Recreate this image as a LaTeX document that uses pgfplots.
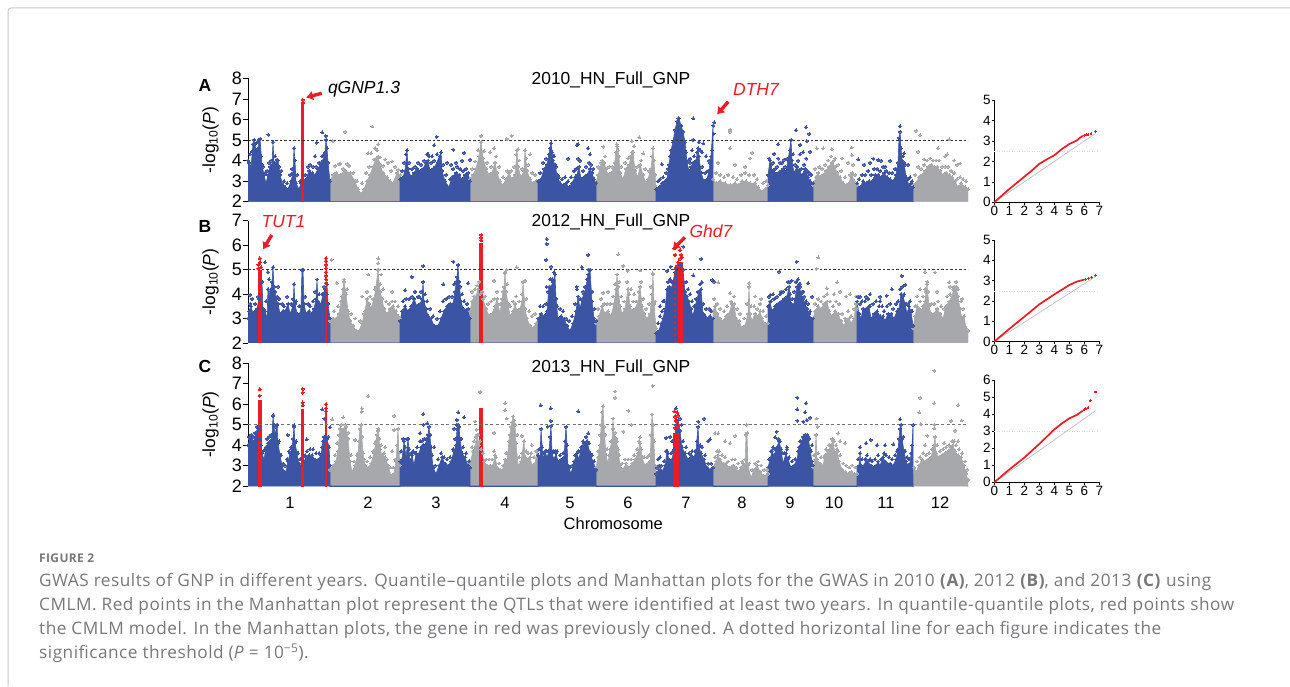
\documentclass[border=0pt]{standalone}
\usepackage{pgfplots}
\pgfplotsset{compat=1.18}
\usetikzlibrary{arrows.meta}
\usepackage{fontspec}
\setmainfont{Liberation Sans}
\newfontfamily\capfont[LetterSpace=3]{Open Sans}
\definecolor{blueM}{HTML}{3B54A4}
\definecolor{grayM}{HTML}{A6A8AB}
\definecolor{redM}{HTML}{ED1C24}
\definecolor{capgray}{HTML}{77787B}
\newcommand{\fs}[1]{\fontsize{#1}{#1}\selectfont}
\pgfplotsset{
  manh/.style={scale only axis,width=720pt,xmin=248,xmax=968,
    axis y line=left,y axis line style={-,black,line width=.6pt},
    ytick distance=1,tick align=outside,major tick length=5pt,
    tick style={black,line width=.6pt},
    yticklabel style={font=\fs{18},inner sep=1pt},
    /pgf/number format/assume math mode=true,
    ylabel={-log\textsubscript{10}(\textit{P})},
    ylabel style={font=\fs{17.5},at={(axis description cs:-0.052,0.5)},anchor=center},
  },
  envb/.style={draw=blueM,fill=blueM,line width=.6pt,mark=*,mark size=1.4pt,mark options={fill=blueM,draw=blueM,line width=0pt}},
  envg/.style={draw=grayM,fill=grayM,line width=.6pt,mark=*,mark size=1.4pt,mark options={fill=grayM,draw=grayM,line width=0pt}},
  ptb/.style={only marks,mark=*,mark size=1.5pt,mark options={fill=blueM,draw=blueM,line width=0pt}},
  ptg/.style={only marks,mark=*,mark size=1.4pt,mark options={fill=grayM,draw=grayM,line width=0pt}},
  ptr/.style={only marks,mark=*,mark size=1.6pt,mark options={fill=redM,draw=redM,line width=0pt}},
  thr/.style={black!80,line width=.6pt,dash pattern=on 2.5pt off 2pt},
  qq/.style={scale only axis,width=105pt,xmin=0,xmax=7,ymin=0,
    axis lines=left,axis line style={-,black,line width=.5pt},
    xtick distance=1,ytick distance=1,tick align=outside,major tick length=2.5pt,
    tick style={black,line width=.5pt},
    tick label style={font=\fs{13.5},inner sep=1pt},
    /pgf/number format/assume math mode=true,clip=false},
  qqr/.style={redM,line width=1.7pt},
  qqg/.style={black!25,line width=.7pt},
  qqt/.style={black!15,line width=.5pt,dotted},
}
\begin{document}
\begin{tikzpicture}[x=1pt,y=1pt]
\path[use as bounding box] (0,0) rectangle (1290,686);
\fill[white] (0,0) rectangle (1290,686);
\draw[black!22,line width=1pt,rounded corners=3pt] (8,0) -- (8,678) -- (1290,678);

% Panel A
\begin{axis}[manh,axis x line=none,name=pa,at={(248pt,484.3pt)},anchor=south west,height=123.4pt,ymin=2,ymax=8]
\addplot[envg] coordinates {(330,1.5)(330,3.0)(333,3.3)(336,3.4)(340,3.3)(345,3.5)(350,3.4)(355,3.0)(358,2.6)(361,2.4)(364,2.6)(367,3.0)(370,3.3)(373,3.7)(376,4.1)(378,4.2)(380,3.8)(383,3.4)(387,3.2)(390,3.0)(393,2.9)(397,3.4)(400,3.3)(400,1.5)
(470,1.5)(470,3.1)(473,3.3)(476,3.6)(479,4.2)(481,4.9)(483,4.1)(486,3.6)(489,3.3)(492,3.4)(495,3.9)(497,3.4)(500,3.0)(503,2.8)(506,3.1)(509,3.4)(512,3.1)(515,3.3)(517,4.5)(518,3.7)(521,3.2)(524,3.5)(525,4.5)(527,3.5)(530,3.1)(533,2.9)(536,3.0)(538,3.0)(538,1.5)
(596,1.5)(596,2.9)(598,3.3)(600,3.6)(602,4.0)(604,3.9)(606,3.6)(608,3.3)(611,3.4)(614,3.6)(616,4.4)(617,4.7)(619,4.2)(620,3.4)(623,3.1)(626,3.6)(629,3.8)(632,4.4)(633,4.4)(635,3.5)(638,3.2)(640,3.8)(643,3.3)(646,2.9)(648,3.1)(651,3.6)(653,4.6)(655,3.3)(656,2.7)(656,1.5)
(713,1.5)(713,3.1)(716,2.9)(720,3.0)(725,2.9)(730,2.8)(735,2.9)(738,2.8)(742,3.0)(746,3.0)(750,2.9)(755,2.9)(758,2.7)(762,2.5)(765,2.6)(768,2.8)(768,1.5)
(813,1.5)(813,2.8)(816,3.2)(818,3.4)(820,3.2)(823,3.3)(826,3.5)(829,3.7)(832,3.9)(835,3.7)(837,3.4)(840,3.2)(843,2.9)(846,2.8)(849,2.9)(852,3.4)(854,3.0)(857,2.8)(857,1.5)
(913,1.5)(913,2.8)(916,2.9)(919,3.2)(922,3.3)(925,3.5)(928,3.7)(931,3.8)(934,3.7)(937,3.7)(940,3.5)(943,3.3)(946,3.4)(949,3.3)(952,3.2)(955,3.0)(958,2.7)(961,2.9)(965,2.7)(968,2.6)(968,1.5)} \closedcycle;
\addplot[envb] coordinates {(248,4.0)(249,3.9)(251,3.7)(253,4.8)(254,5.0)(256,4.5)(258,4.6)(259,5.0)(260,5.05)(262,3.8)(264,3.3)(266,2.9)(268,3.3)(270,3.7)(272,3.8)(273,4.9)(274,3.9)(276,3.9)(278,4.0)(280,3.3)(283,2.8)(285,2.7)(288,2.6)(291,3.0)(293,3.4)(294,4.6)(295,4.0)(296,2.9)(299,2.6)(301,2.9)(304,3.0)(306,3.1)(309,3.5)(312,3.4)(315,3.3)(318,3.6)(321,3.9)(323,4.0)(325,4.4)(326,5.0)(327,4.6)(328,3.9)(330,3.0)(330,1.5)
(400,1.5)(400,3.1)(403,3.2)(405,3.5)(407,4.5)(408,3.6)(411,3.2)(414,3.4)(417,3.6)(420,3.5)(423,3.6)(426,3.9)(428,4.0)(430,3.5)(433,3.6)(435,3.7)(441,4.4)(442,3.5)(445,3.0)(449,2.7)(452,3.2)(456,3.4)(459,3.3)(462,3.1)(465,3.3)(468,3.4)(470,3.0)(470,1.5)
(538,1.5)(538,3.0)(541,3.1)(544,3.6)(547,3.8)(550,4.6)(551,4.85)(553,4.0)(555,3.8)(557,3.3)(560,2.9)(563,2.8)(566,2.9)(569,2.7)(572,2.9)(575,3.2)(577,3.3)(579,3.7)(581,3.1)(584,3.2)(587,3.3)(590,3.6)(592,3.4)(594,3.1)(596,2.9)(596,1.5)
(656,1.5)(656,2.6)(659,2.7)(662,2.9)(665,3.0)(667,3.1)(669,3.8)(671,4.5)(673,4.9)(675,5.5)(677,5.9)(679,6.05)(681,5.7)(683,5.4)(685,4.9)(687,3.9)(689,3.5)(691,3.7)(693,3.9)(696,4.0)(698,4.6)(699,4.2)(701,3.4)(704,3.0)(707,3.1)(709,3.5)(711,4.2)(713,5.7)(713,1.5)
(768,1.5)(768,3.3)(770,4.0)(772,3.5)(774,3.4)(776,3.3)(778,3.4)(781,3.5)(783,3.6)(786,3.5)(788,4.0)(791,5.0)(792,4.0)(794,3.4)(797,3.7)(799,3.5)(802,3.3)(805,3.6)(808,3.2)(810,3.0)(813,2.9)(813,1.5)
(857,1.5)(857,2.9)(860,2.7)(863,3.0)(866,2.9)(869,3.0)(872,3.0)(875,3.3)(878,3.3)(881,3.2)(884,3.4)(887,3.2)(890,3.1)(893,3.0)(896,3.3)(898,3.9)(899,5.1)(900,5.4)(901,4.6)(902,4.0)(904,3.9)(906,3.2)(909,2.8)(911,2.9)(913,2.7)(913,1.5)} \closedcycle;
\addplot[ptg] coordinates {(345,5.4)(372.3,5.66)(332.7,4.95)(378.3,4.8)(481,5.2)(506.7,5.05)(511.7,5.2)(494,4.6)(518,4.56)(730,5.5)(730,5.4)(730,4.6)(639.3,5.13)(916,5.45)(920,5.24)(949.3,5.03)(918,4.43)(938,4.6)(752,4.38)(851.7,4.64)(851.7,4.27)(823.3,4.6)(831.7,4.56)(816.7,4.6)(960,3.86)(603.3,4.67)(616.7,4.8)(631.7,4.95)(643.3,4.35)(368,4.35)(375,4.6)(385,4.05)(392,3.95)(340,3.85)(347,3.85)(735,3.8)(718,3.9)(745,3.7)(750,4.1)(924,4.05)(945,4.2)(947,4.3)(954,4.0)(957,3.8)(835,4.1)(842,4.1)(848,3.9)(490,4.4)(516,4.3)(530,4.3)
(335,3.75)(339,3.85)(343,3.6)(349,3.75)(353,3.4)(357,3.0)(362,2.9)(366,3.4)(369,3.7)(371,4.35)(374,4.05)(377,4.5)(380,4.15)(383,3.75)(388,3.9)(391,3.5)(395,3.7)(398,3.55)(472,3.6)(475,3.95)(478,4.5)(484,4.45)(487,3.9)(491,3.7)(496,4.2)(499,3.7)(503,3.2)(507,3.5)(511,3.5)(514,3.7)(519,4.0)(522,3.6)(526,4.1)(528,3.8)(532,3.4)(535,3.3)(598,3.7)(601,3.9)(605,4.2)(609,3.7)(612,3.7)(615,3.9)(618,4.5)(621,3.7)(625,3.9)(628,4.1)(630,4.2)(634,4.7)(637,3.7)(641,4.0)(645,3.6)(649,3.5)(652,4.2)(654,4.0)(716,3.4)(720,3.3)(724,3.2)(728,3.3)(733,3.2)(737,3.1)(741,3.3)(745,3.4)(749,3.3)(754,3.3)(757,3.1)(763,2.9)(766,3.0)(815,3.6)(819,3.7)(822,3.6)(825,3.8)(828,4.0)(831,4.2)(834,4.0)(838,3.8)(841,3.5)(845,3.2)(850,3.3)(853,3.8)(855,3.3)(915,3.3)(918,3.7)(921,3.6)(924,3.8)(927,4.0)(930,4.1)(933,4.0)(936,4.0)(939,4.0)(942,3.7)(945,3.7)(948,3.7)(951,3.5)(954,3.4)(957,3.1)(960,3.2)(963,3.1)(966,3.0)};
\addplot[ptb] coordinates {(268.3,5.26)(273,4.9)(322.3,5.37)(325.7,5.2)(316.7,4.87)(315,4.2)(436.7,5.16)(434.3,4.75)(428.3,4.3)(453.3,4.53)(464,4.37)(470,4.05)(432,4.2)(437,4.3)(447,3.9)(451,3.8)(456,3.9)(462,4.0)(576.7,4.75)(578,4.8)(551,4.85)(588,4.6)(590,4.3)(568,4.1)(578,4.1)(553,4.2)(678.3,6.05)(693.3,6.05)(714.3,5.86)(713.5,5.3)(693,5.0)(698.7,4.9)(703.3,4.83)(796,5.47)(806,5.63)(809.3,5.3)(806.7,4.95)(800,4.76)(778.3,4.8)(774,4.33)(810,4.43)(900,5.68)(661.7,3.83)(692,4.5)(702,4.4)(706,4.2)(690,4.1)(709,4.0)(778,4.1)(784,4.05)(800,4.3)(803,4.4)(806,4.1)(858.3,4.06)(878.3,4.03)(873.3,4.1)(890,4.0)(864,3.8)(870,3.9)(881,4.0)(885,3.7)(904,4.35)(908,3.8)
(250,4.3)(252,4.45)(255,4.8)(257,4.9)(261,4.2)(263,3.7)(265,3.4)(267,3.5)(269,3.9)(271,4.0)(275,4.2)(277,4.05)(279,3.7)(281,3.5)(284,3.0)(287,2.9)(290,3.3)(292,3.6)(297,3.3)(300,3.0)(305,3.3)(308,3.7)(310,3.8)(313,3.7)(316,3.7)(319,3.9)(322,4.2)(324,4.3)(402,3.5)(404,3.9)(406,4.3)(409,3.9)(412,3.6)(415,3.7)(418,3.9)(421,3.8)(424,4.0)(427,4.3)(429,4.2)(431,3.9)(434,4.0)(438,3.9)(440,4.2)(443,3.8)(446,3.3)(450,3.1)(453,3.6)(457,3.7)(460,3.6)(463,3.5)(466,3.6)(540,3.4)(543,3.9)(546,4.1)(549,4.3)(552,4.4)(554,4.2)(556,3.7)(559,3.2)(562,3.1)(565,3.2)(568,3.0)(571,3.2)(574,3.5)(576,3.6)(580,4.0)(583,3.5)(586,3.7)(589,3.9)(591,3.8)(593,3.6)(658,3.0)(660,3.1)(663,3.2)(666,3.4)(668,3.6)(670,4.2)(672,4.4)(686,4.4)(688,4.0)(690,3.9)(694,4.2)(697,4.4)(700,4.5)(702,3.7)(705,3.4)(708,3.5)(710,3.9)(712,4.5)(769,4.1)(771,3.8)(773,3.9)(775,3.6)(777,3.7)(780,3.9)(782,3.9)(785,3.7)(787,4.1)(790,4.5)(793,4.3)(795,3.8)(798,4.0)(801,3.6)(804,3.8)(807,3.5)(809,3.4)(811,3.3)(859,3.1)(862,3.3)(865,3.3)(868,3.5)(871,3.3)(874,3.6)(877,3.6)(880,3.5)(883,3.7)(886,3.5)(889,3.4)(892,3.4)(895,3.6)(897,3.6)(903,4.2)(905,3.8)(908,3.1)(910,3.2)(912,3.0)};
\addplot[redM,line width=2.6pt] coordinates {(302.7,1.9)(302.7,6.8)};
\addplot[ptr] coordinates {(302.7,6.95)(302.7,6.8)};
\addplot[thr] coordinates {(248,5)(968,5)};
\end{axis}

% Panel B
\begin{axis}[manh,axis x line=none,name=pb,at={(248pt,343pt)},anchor=south west,height=122.3pt,ymin=2,ymax=7]
\addplot[envg] coordinates {(330,1.5)(330,2.9)(333,3.0)(336,3.0)(339,3.2)(341,3.7)(343,4.2)(344,4.5)(346,4.0)(348,3.3)(350,2.9)(353,2.7)(356,2.5)(359,2.5)(362,2.8)(365,3.3)(367,3.8)(369,3.6)(371,3.4)(374,3.8)(376,4.3)(378,5.0)(380,4.1)(382,3.8)(384,3.4)(387,3.2)(390,3.4)(393,3.5)(396,3.3)(398,3.1)(400,3.0)(400,1.5)
(470,1.5)(470,3.3)(472,3.7)(474,3.9)(476,3.9)(478,4.2)(480,4.0)(483,3.8)(486,3.4)(489,3.1)(492,3.2)(495,3.5)(497,3.8)(500,3.2)(502,3.8)(504,4.3)(505,4.9)(506,4.1)(508,3.6)(510,3.1)(513,3.3)(515,3.6)(517,3.3)(520,3.4)(522,3.7)(523,4.5)(525,3.4)(527,3.0)(530,2.7)(533,2.6)(536,2.8)(538,3.0)(538,1.5)
(596,1.5)(596,2.8)(599,3.1)(602,3.5)(605,3.2)(608,3.3)(611,3.1)(614,3.6)(616,4.2)(617,4.8)(618,4.3)(620,3.5)(622,3.2)(625,3.4)(628,4.2)(630,3.5)(632,3.3)(635,3.4)(638,3.7)(640,4.3)(642,3.5)(644,3.2)(647,3.0)(650,3.2)(652,4.0)(653,4.8)(654,3.6)(656,2.6)(656,1.5)
(713,1.5)(713,3.3)(715,3.5)(717,3.2)(720,3.0)(723,2.9)(726,3.1)(729,3.2)(732,3.6)(734,3.6)(736,3.0)(739,2.9)(742,2.6)(745,2.7)(748,3.2)(749,4.3)(750,3.2)(752,2.9)(755,3.2)(758,3.1)(760,3.3)(762,3.0)(765,2.8)(768,2.8)(768,1.5)
(813,1.5)(813,3.0)(815,3.3)(818,3.5)(821,3.4)(824,3.6)(827,3.7)(829,3.3)(832,3.1)(835,3.3)(838,3.2)(841,2.9)(844,2.7)(846,2.9)(849,3.0)(851,2.8)(854,3.0)(856,3.6)(857,3.4)(857,1.5)
(913,1.5)(913,2.6)(915,3.1)(917,3.5)(919,3.4)(921,3.3)(923,3.5)(925,3.7)(927,4.4)(929,3.5)(931,3.2)(934,3.2)(937,3.4)(940,3.2)(943,3.0)(946,3.5)(949,3.7)(952,3.9)(954,4.3)(956,4.3)(958,3.9)(960,3.4)(962,3.0)(964,3.1)(966,2.6)(968,2.5)(968,1.5)} \closedcycle;
\addplot[envb] coordinates {(248,3.0)(249,3.3)(251,3.5)(253,3.2)(255,3.3)(257,3.4)(259,3.8)(262,4.5)(263,3.4)(265,3.3)(267,3.0)(268,4.2)(270,3.9)(272,4.5)(273,5.1)(274,4.3)(276,3.8)(278,3.6)(280,3.2)(283,3.3)(285,3.3)(288,3.6)(290,3.2)(293,3.5)(294,4.4)(295,3.6)(297,3.2)(300,3.2)(301,3.5)(302,5.0)(303,5.0)(304,3.6)(306,3.2)(309,3.3)(311,3.2)(314,3.4)(316,3.8)(317,4.6)(318,3.7)(321,3.6)(323,4.0)(325,4.2)(327,4.4)(328,3.6)(330,3.0)(330,1.5)
(400,1.5)(400,2.9)(402,3.3)(405,3.5)(408,3.3)(411,3.5)(414,3.8)(417,3.5)(420,3.6)(422,3.8)(423,4.5)(424,3.7)(426,3.4)(428,3.1)(431,3.0)(434,2.7)(436,2.6)(438,2.7)(441,3.0)(444,3.3)(447,3.5)(450,3.6)(453,3.6)(455,4.1)(457,4.7)(458,5.2)(459,4.5)(461,3.7)(463,3.4)(465,3.3)(468,3.4)(470,3.0)(470,1.5)
(538,1.5)(538,3.0)(541,3.2)(544,3.1)(547,3.3)(549,4.3)(551,4.3)(553,4.5)(555,4.8)(556,3.8)(558,3.0)(561,3.1)(564,3.0)(567,2.7)(570,2.5)(573,2.8)(576,3.3)(578,3.9)(580,3.4)(582,3.8)(584,4.0)(586,4.3)(588,4.8)(590,5.0)(592,3.7)(594,3.0)(596,2.9)(596,1.5)
(656,1.5)(656,2.4)(659,2.5)(661,2.8)(663,3.0)(665,3.4)(667,4.2)(669,4.3)(671,4.2)(673,4.5)(675,4.9)(677,5.1)(679,5.2)(681,5.2)(683,5.0)(685,4.1)(687,3.9)(689,3.7)(691,3.4)(693,3.1)(695,3.5)(697,3.8)(699,4.1)(701,4.2)(703,3.2)(705,3.1)(707,3.0)(710,3.1)(713,3.0)(713,1.5)
(768,1.5)(768,3.5)(770,3.7)(772,3.3)(775,3.5)(778,3.6)(781,3.7)(784,3.8)(787,3.9)(789,4.3)(791,3.6)(793,3.5)(795,3.8)(797,4.3)(799,4.4)(801,4.0)(803,3.8)(805,3.6)(807,3.4)(809,3.2)(811,3.0)(813,3.0)(813,1.5)
(857,1.5)(857,3.7)(859,3.2)(861,3.0)(863,3.4)(866,3.4)(869,3.5)(871,3.0)(874,3.2)(877,3.3)(880,3.1)(883,3.1)(885,2.9)(888,3.2)(891,3.2)(894,3.0)(897,3.3)(899,3.4)(901,4.0)(903,3.9)(905,3.6)(907,3.2)(909,3.5)(911,3.3)(913,2.7)(913,1.5)} \closedcycle;
\addplot[ptg] coordinates {(331.7,5.4)(378.3,5.46)(378.3,5.26)(381,4.8)(368.3,4.8)(344,4.6)(336.7,4.45)(506.7,5)(516.7,5.1)(494,4.55)(525,4.55)(505,4.85)(477.3,4.35)(362,3.9)(392,4.1)(618.3,5.63)(623.3,5.15)(627.7,4.95)(640,4.96)(652.7,4.85)(818.3,5.5)(816.7,5.03)(925,4.9)(935,4.88)(927.3,4.5)(837.3,4.49)(826.7,4.24)(749,4.45)(718.3,4.48)(730,4.04)(949.3,4.49)(840,4.1)(834,4.0)(846,3.9)(920,4.2)(937,4.1)(925,4.2)(608,4.1)(603,4.05)(631,4.2)(634,4.0)(950,4.3)(962,3.8)(850,4.0)(761,3.8)(755,3.9)
(334,3.3)(338,3.5)(342,3.9)(347,4.2)(351,3.2)(355,3.0)(360,2.9)(364,3.2)(367,4.1)(370,3.9)(373,3.8)(375,4.2)(380,4.4)(383,4.2)(386,3.7)(389,3.6)(392,3.7)(395,3.7)(398,3.5)(472,4.1)(475,4.2)(479,4.5)(482,4.1)(485,3.9)(488,3.6)(491,3.7)(494,3.8)(497,4.1)(500,3.6)(503,4.1)(507,4.4)(510,3.5)(513,3.7)(516,3.9)(519,3.7)(522,4.0)(526,3.8)(529,3.3)(532,3.1)(535,3.2)(598,3.4)(601,3.8)(604,3.6)(607,3.6)(610,3.6)(613,3.9)(615,4.4)(619,4.5)(621,3.9)(624,3.7)(627,4.5)(629,4.0)(633,3.7)(636,3.7)(639,4.1)(641,4.5)(643,3.8)(646,3.4)(649,3.6)(651,4.3)(655,3.7)(714,3.8)(717,3.6)(720,3.4)(724,3.3)(727,3.5)(731,3.7)(734,3.9)(737,3.4)(740,3.2)(744,3.0)(747,3.6)(751,3.5)(754,3.5)(757,3.4)(760,3.6)(763,3.3)(766,3.1)(815,3.6)(818,3.8)(821,3.7)(824,3.9)(827,4.0)(830,3.7)(833,3.5)(836,3.7)(839,3.6)(842,3.2)(845,3.0)(848,3.3)(851,3.1)(854,3.4)(856,3.9)(915,3.5)(917,3.9)(920,3.7)(923,3.9)(926,4.1)(928,4.1)(931,3.6)(934,3.6)(938,3.7)(941,3.5)(944,3.4)(947,3.9)(950,4.0)(953,4.2)(956,4.5)(958,4.2)(961,3.7)(963,3.4)};
\addplot[ptb] coordinates {(250,3.97)(267.7,4.9)(273.3,5.1)(265,5.3)(270,4.1)(278,4.3)(453.3,5.33)(458.3,5.2)(423.3,5.15)(411.7,4.7)(443.3,4.4)(468.3,4.45)(415,4.1)(405,4.15)(419,3.9)(546.7,6.25)(546.7,6.05)(546,5.4)(551,5.12)(546.7,4.3)(588.3,5.6)(581.7,5.1)(588.3,5)(576.7,4.3)(683.3,5.94)(701.3,5.44)(693.3,4.76)(712.3,4.58)(714,4.51)(701.7,4.49)(670.7,5.12)(667.3,4.95)(671.7,4.5)(796.7,5.33)(779,4.92)(790,4.51)(791.7,4.55)(800,4.4)(808.3,4.45)(901.7,4.74)(905,4.38)(891.7,4.2)(886.7,3.94)(870,4.0)(866,3.9)(880,3.9)(880,3.7)(773,4.0)(770,3.95)(781,4.1)(803,4.1)(812,3.9)(663,3.7)(660,3.5)(860,3.9)
(250,3.6)(252,3.8)(255,3.6)(258,3.9)(266,3.7)(269,4.6)(271,4.2)(275,4.1)(277,3.9)(279,3.8)(282,3.6)(284,3.5)(287,3.9)(291,3.6)(293,3.8)(296,3.7)(299,3.5)(305,3.9)(308,3.6)(310,3.5)(313,3.7)(315,4.1)(319,4.0)(322,4.0)(324,4.3)(327,4.0)(403,3.7)(406,3.8)(409,3.8)(412,3.9)(415,4.1)(418,3.9)(421,4.1)(425,4.0)(427,3.7)(430,3.4)(433,3.1)(437,3.0)(440,3.3)(443,3.7)(446,3.8)(449,3.9)(452,3.9)(454,4.4)(456,4.5)(460,4.3)(462,4.0)(464,3.7)(467,3.6)(540,3.5)(543,3.5)(546,3.6)(548,4.1)(550,4.6)(552,4.6)(554,4.9)(557,3.5)(560,3.4)(563,3.3)(566,3.0)(569,2.9)(572,3.1)(575,3.6)(577,4.2)(580,3.8)(583,4.1)(585,4.3)(587,4.6)(592,4.1)(594,3.4)(658,2.8)(660,3.1)(662,3.3)(664,3.7)(668,4.5)(670,4.6)(672,4.5)(686,4.5)(688,4.2)(690,4.0)(692,3.7)(694,3.5)(696,3.8)(698,4.1)(700,4.4)(703,3.6)(706,3.4)(709,3.4)(711,3.3)(769,3.9)(771,3.7)(774,3.8)(777,3.9)(780,4.0)(783,4.1)(786,4.2)(788,4.5)(790,4.0)(792,3.8)(794,4.1)(796,4.5)(798,4.6)(800,4.3)(802,4.1)(804,3.9)(806,3.7)(808,3.6)(810,3.3)(858,3.9)(860,3.6)(862,3.7)(865,3.7)(868,3.8)(870,3.5)(873,3.6)(876,3.7)(879,3.5)(882,3.5)(884,3.3)(887,3.5)(890,3.6)(893,3.4)(896,3.6)(898,3.7)(900,4.2)(902,4.3)(904,4.0)(906,3.6)(908,3.6)(910,3.7)(912,3.3)};
\addplot[redM,line width=4pt] coordinates {(259.7,1.9)(259.7,5.0)};
\addplot[redM,line width=2.4pt] coordinates {(326,1.9)(326,4.3)};
\addplot[redM,line width=4pt] coordinates {(481.3,1.9)(481.3,6.1)};
\addplot[redM,line width=5.5pt] coordinates {(680.5,1.9)(680.5,5.3)};
\addplot[redM,line width=2pt,dash pattern=on 2.5pt off 3.5pt] coordinates {(674.5,2.05)(674.5,5.2)};
\addplot[ptr] coordinates {(259.7,5.46)(258.5,5.2)(260,5.3)(258.5,5.05)(261,5.1)(326,5.46)(326,5.35)(326,5.2)(326,5.05)(326,4.9)(326,4.75)(326,4.6)(326,4.45)(481.3,6.42)(481.3,6.2)(481.3,6.3)(680,5.8)(681,5.6)(680,5.45)(682,5.5)(674.5,5.87)(675,5.6)(678,5.3)(677,5.15)};
\addplot[thr] coordinates {(248,5)(968,5)};
\end{axis}

% Panel C
\begin{axis}[manh,name=pc,at={(248pt,200pt)},anchor=south west,height=122.7pt,ymin=2,ymax=8,
  axis x line=bottom,x axis line style={draw=none},xtick={290,368,436,505,570,628,686,742,790,834,886,940},
  xticklabels={1,2,3,4,5,6,7,8,9,10,11,12},xticklabel style={font=\fs{16.5},inner sep=0pt,yshift=-8pt},
  x tick style={draw=none},
  xlabel={Chromosome},xlabel style={font=\fs{16.5},at={(axis description cs:0.5072,0)},anchor=center,yshift=-38pt}]
\addplot[envg] coordinates {(330,1.5)(330,2.8)(333,3.0)(336,3.2)(338,3.7)(340,4.8)(342,4.7)(344,4.8)(346,4.9)(348,4.3)(350,3.2)(352,2.7)(355,3.0)(358,3.6)(360,4.8)(361,5.0)(363,3.6)(365,3.0)(368,2.9)(371,3.1)(374,3.6)(376,4.2)(378,4.7)(380,3.8)(382,3.5)(385,3.4)(388,3.0)(391,2.5)(394,2.6)(396,3.2)(398,4.8)(399,3.6)(400,3.0)(400,1.5)
(470,1.5)(470,3.1)(473,3.7)(475,3.9)(477,4.5)(479,4.0)(481,3.8)(484,3.2)(487,3.0)(490,3.0)(493,3.0)(495,3.5)(497,2.9)(500,2.8)(502,2.7)(505,3.3)(507,3.2)(509,4.2)(511,4.9)(513,5.4)(515,5.0)(516,4.1)(518,3.0)(521,3.2)(524,4.2)(525,3.4)(527,3.3)(530,3.4)(532,3.0)(535,3.1)(537,3.7)(538,3.5)(538,1.5)
(596,1.5)(596,2.9)(598,3.4)(600,4.0)(602,5.6)(603,5.9)(604,4.9)(606,3.5)(608,3.1)(610,3.8)(612,4.2)(613,5.3)(614,4.4)(616,4.3)(618,3.8)(620,3.0)(623,2.8)(626,3.1)(629,2.9)(632,3.1)(635,3.3)(638,3.6)(640,4.1)(642,3.4)(645,3.0)(648,3.1)(650,3.2)(652,5.5)(653,5.0)(655,3.0)(656,2.6)(656,1.5)
(713,1.5)(713,2.9)(716,3.2)(718,3.5)(720,3.3)(723,3.1)(726,3.1)(729,2.9)(733,3.0)(736,2.9)(738,2.7)(741,2.9)(743,3.1)(745,3.0)(746,4.5)(747,4.6)(748,3.0)(751,2.4)(754,2.8)(757,3.0)(760,2.7)(763,2.5)(766,2.5)(768,2.6)(768,1.5)
(813,1.5)(813,2.9)(815,3.3)(816,4.5)(817,3.3)(820,3.1)(823,3.0)(825,3.5)(828,3.7)(831,4.0)(833,4.2)(835,3.6)(837,3.8)(839,3.2)(842,2.8)(845,2.7)(848,2.6)(851,2.7)(854,2.6)(857,2.6)(857,1.5)
(913,1.5)(914,2.9)(916,2.7)(919,3.0)(922,3.3)(925,3.2)(928,3.3)(931,3.4)(934,4.0)(935,4.4)(936,3.6)(939,3.4)(942,3.5)(945,3.6)(948,3.7)(951,3.9)(953,4.0)(955,3.7)(958,3.5)(961,3.4)(964,3.0)(966,2.6)(968,2.3)(968,1.5)} \closedcycle;
\addplot[envb] coordinates {(248,4.0)(250,4.3)(252,4.2)(254,4.2)(256,4.6)(258,4.9)(260,4.3)(262,3.6)(264,3.3)(266,3.9)(268,4.1)(270,4.2)(272,4.4)(273,5.4)(275,4.5)(277,5.0)(278,4.1)(280,3.5)(282,3.0)(284,2.7)(286,2.7)(288,3.2)(290,3.6)(292,3.8)(294,4.9)(295,4.1)(297,3.6)(299,3.1)(301,3.0)(304,3.2)(306,3.4)(309,3.5)(312,3.5)(315,3.3)(318,3.3)(321,3.5)(323,4.2)(325,4.4)(327,4.3)(329,3.9)(330,3.0)(330,1.5)
(400,1.5)(400,3.2)(402,3.3)(404,4.2)(406,3.4)(408,4.3)(410,3.2)(412,3.5)(414,3.0)(416,3.6)(418,3.5)(421,3.9)(423,4.0)(425,4.0)(428,4.5)(429,4.9)(431,3.9)(433,2.9)(436,2.6)(439,3.0)(442,3.4)(445,3.1)(448,3.0)(451,3.2)(454,3.7)(456,4.0)(457,4.8)(459,4.9)(460,4.3)(462,3.6)(465,3.4)(468,3.0)(470,2.9)(470,1.5)
(538,1.5)(538,3.5)(540,3.4)(541,4.8)(543,3.3)(545,3.7)(547,3.4)(549,3.7)(551,4.95)(552,3.6)(554,3.3)(556,3.6)(558,3.2)(561,3.3)(564,3.4)(566,4.9)(567,4.0)(568,3.0)(571,2.6)(574,3.2)(577,3.6)(579,3.3)(581,3.9)(584,4.1)(587,4.2)(590,3.6)(593,3.2)(596,2.8)(596,1.5)
(656,1.5)(656,2.6)(658,2.7)(660,2.8)(662,2.7)(665,3.0)(667,3.7)(669,3.3)(672,3.3)(674,3.8)(676,5.0)(678,5.2)(680,4.7)(682,3.9)(685,3.6)(688,3.3)(691,3.5)(694,3.4)(696,3.7)(698,4.9)(699,3.9)(701,3.6)(704,3.3)(707,2.9)(710,2.8)(713,2.9)(713,1.5)
(768,1.5)(768,2.9)(770,3.3)(772,3.7)(774,3.5)(777,3.9)(779,4.2)(781,3.8)(783,3.1)(786,3.6)(788,3.3)(791,2.9)(794,3.0)(797,3.3)(799,3.9)(802,4.2)(804,4.4)(806,4.3)(808,4.4)(810,3.8)(812,3.2)(813,3.0)(813,1.5)
(857,1.5)(857,2.9)(859,3.0)(860,3.6)(861,3.0)(864,3.0)(866,3.3)(868,3.2)(871,3.0)(873,2.9)(876,3.0)(878,3.2)(880,3.0)(883,3.4)(885,3.2)(887,3.1)(890,3.1)(893,3.0)(896,3.3)(898,3.8)(900,4.8)(901,5.0)(902,4.3)(904,3.7)(906,3.2)(908,3.0)(910,3.1)(912,4.0)(913,5.0)(913,1.5)} \closedcycle;
\addplot[ptg] coordinates {(368.3,6.4)(361.7,5.8)(361.7,5.63)(394,5.44)(343.3,5.36)(332.3,5.26)(355,4.25)(378.3,4.8)(394,4.74)(480,6.6)(505,6.05)(505,5.7)(506.7,5.3)(494,4.6)(521.7,4.45)(531.7,4.0)(475,5.15)(476.7,4.75)(652.7,6.9)(615,6.62)(615,6.32)(628.3,5.68)(631.7,5)(640,4.38)(623.3,4.66)(816.7,5.3)(817.7,4.9)(934.3,7.64)(920,6.32)(934.3,6.05)(958.3,5.96)(919.3,5.6)(920.7,5.03)(951,5.18)(961.7,5.2)(934.3,5)(934.3,4.82)(927.3,4.46)(955,4.7)(746.7,5)(735,4.46)(715,4.58)(718.3,4.58)(838.3,4.58)(840,4.2)(845,4.1)(725,4.2)(730,4.1)(925,4.0)(944,4.1)(958,4.2)(385,3.9)(392,3.7)
(335,3.5)(337,4.1)(339,4.5)(341,5.0)(345,5.0)(348,4.6)(351,3.5)(354,3.2)(357,3.5)(359,4.2)(362,4.4)(364,3.3)(367,3.2)(370,3.4)(373,3.7)(375,4.1)(377,4.5)(379,4.3)(381,4.0)(384,3.6)(387,3.3)(390,2.9)(393,2.9)(395,3.3)(397,4.0)(472,3.9)(474,4.2)(476,4.4)(478,4.5)(480,4.2)(483,3.6)(486,3.3)(489,3.3)(492,3.3)(494,3.7)(496,3.4)(499,3.1)(503,3.0)(506,3.6)(508,3.6)(510,4.5)(512,5.1)(514,5.2)(517,4.5)(519,3.4)(522,3.6)(526,3.7)(528,3.6)(531,3.6)(534,3.4)(536,3.7)(598,3.7)(600,4.5)(601,5.0)(605,4.5)(607,3.8)(609,3.5)(611,4.2)(613,4.8)(615,4.6)(617,4.2)(619,3.5)(622,3.1)(625,3.3)(628,3.3)(631,3.3)(634,3.5)(637,3.8)(639,4.2)(641,3.8)(644,3.4)(647,3.4)(649,3.5)(651,4.5)(654,4.2)(715,3.4)(717,3.7)(719,3.7)(722,3.5)(725,3.4)(728,3.2)(732,3.3)(735,3.3)(738,3.1)(742,3.2)(745,3.3)(749,3.1)(752,2.8)(755,3.1)(758,3.2)(761,3.0)(764,2.8)(767,2.8)(814,3.5)(818,3.6)(821,3.4)(824,3.4)(826,3.8)(829,4.0)(832,4.3)(834,4.2)(836,4.0)(838,3.7)(840,3.5)(843,3.1)(846,3.0)(849,2.9)(852,3.0)(855,2.9)(917,3.2)(920,3.4)(923,3.6)(926,3.5)(929,3.6)(932,3.8)(937,4.0)(940,3.7)(943,3.8)(946,3.9)(949,4.0)(952,4.2)(954,4.2)(956,4.0)(959,3.8)(962,3.6)(965,3.2)(967,2.8)};
\addplot[ptb] coordinates {(273.3,5.47)(277.3,5)(294,4.97)(287.7,4.5)(322.3,5.75)(324.3,5.3)(330,4.87)(306.7,4.28)(423.3,5.52)(427.3,5.07)(423.3,5)(420,4.58)(458.3,5.6)(464,5.36)(456.7,5.23)(456.7,5)(454,4.8)(434.3,3.9)(540.7,5.95)(550.7,5.8)(550.7,5.18)(547.7,4.9)(578.3,5.65)(588.3,4.58)(797.3,6.32)(806,6.05)(797.3,5.75)(805,5.6)(797.3,5.2)(803.3,5.15)(806.7,5.22)(810,5.34)(704,5.3)(698.3,5.15)(676,5.8)(680,5.3)(681.7,5)(900,5.26)(776.7,4.66)(775,4.38)(786.7,3.9)(870.7,4.25)(885,4)(893.3,4.04)(710,4.28)(708,4.2)(812,4.0)(866,4.1)(877,4.0)(670,4.4)(666,4.35)(672,4.2)(660,3.4)(658,3.3)
(249,4.4)(251,4.5)(253,4.4)(255,4.6)(257,4.9)(259,4.8)(261,4.0)(263,3.7)(265,3.8)(267,4.3)(269,4.4)(271,4.5)(274,5.0)(276,4.9)(279,4.2)(281,3.5)(283,3.1)(285,3.0)(287,3.3)(289,3.7)(291,3.9)(293,4.3)(296,4.2)(298,3.6)(300,3.3)(305,3.5)(307,3.7)(310,3.8)(313,3.8)(316,3.6)(319,3.6)(322,3.9)(324,4.4)(328,4.4)(401,3.7)(403,4.3)(405,3.9)(407,4.3)(409,3.8)(411,3.6)(413,3.7)(415,3.6)(417,3.9)(420,4.2)(422,4.2)(424,4.3)(426,4.3)(430,4.5)(432,3.5)(435,3.0)(438,3.3)(441,3.6)(444,3.4)(447,3.3)(450,3.4)(453,3.8)(455,4.3)(458,5.0)(461,4.3)(463,3.9)(466,3.6)(469,3.2)(539,3.8)(542,3.9)(544,3.6)(546,3.7)(548,3.7)(550,4.4)(553,3.7)(555,3.7)(557,3.7)(560,3.5)(563,3.6)(565,4.2)(569,2.9)(572,3.0)(575,3.5)(578,3.7)(580,3.7)(583,4.2)(586,4.4)(589,4.1)(592,3.5)(594,3.2)(657,2.9)(659,3.0)(661,3.0)(664,3.2)(666,3.7)(668,3.6)(671,3.6)(673,3.7)(683,4.2)(686,3.9)(689,3.6)(692,3.7)(695,3.7)(697,4.2)(700,4.0)(702,3.9)(705,3.5)(708,3.1)(711,3.1)(769,3.3)(771,3.7)(773,3.9)(775,3.8)(778,4.3)(780,4.2)(782,3.6)(784,3.6)(787,3.8)(789,3.4)(792,3.2)(795,3.3)(798,3.7)(800,4.2)(803,4.4)(805,4.5)(807,4.5)(809,4.3)(811,3.7)(858,3.3)(860,3.9)(862,3.3)(865,3.3)(867,3.5)(870,3.3)(872,3.2)(875,3.3)(878,3.5)(881,3.3)(884,3.6)(886,3.5)(889,3.4)(892,3.3)(895,3.5)(897,3.7)(899,4.3)(903,4.4)(905,3.7)(907,3.4)(909,3.3)(911,3.6)};
\addplot[redM,line width=4pt] coordinates {(259.7,1.9)(259.7,6.2)};
\addplot[redM,line width=2.8pt] coordinates {(302.7,1.9)(302.7,5.75)};
\addplot[redM,line width=2.8pt] coordinates {(326,1.9)(326,5.55)};
\addplot[redM,line width=4pt] coordinates {(481.3,1.9)(481.3,5.8)};
\addplot[redM,line width=6pt] coordinates {(676.2,1.9)(676.2,4.6)};
\addplot[ptr] coordinates {(259.7,6.73)(259.7,6.42)(302.7,6.75)(302.7,6.57)(302.7,6.08)(302.7,5.95)(326,6.0)(326,5.8)(326,5.65)(674.5,5.65)(677,5.6)(675,5.4)(678,5.45)(676,5.2)(677,5.15)(678,4.95)(675,4.85)};
\addplot[black!55,line width=.9pt,dash pattern=on 3pt off 2.5pt] coordinates {(248,5)(968,5)};
\end{axis}

% QQ plots
\begin{axis}[qq,at={(994.3pt,483.7pt)},anchor=south west,height=102.3pt,ymax=5]
\addplot[qqt] coordinates {(0,2.5)(7,2.5)};
\addplot[qqg] coordinates {(0,0)(6.75,3.37)};
\addplot[qqr] coordinates {(0,0)(1,0.65)(1.5,0.95)(2,1.25)(2.5,1.55)(3,1.88)(3.5,2.1)(4,2.3)(4.5,2.6)(5,2.85)(5.5,3.02)(5.7,3.15)(5.9,3.25)};
\addplot[ptr,mark size=.9pt] coordinates {(6,3.28)(6.15,3.3)(6.25,3.33)(6.45,3.37)(6.75,3.47)};
\end{axis}
\begin{axis}[qq,at={(994.3pt,344.5pt)},anchor=south west,height=101.5pt,ymax=5]
\addplot[qqt] coordinates {(0,2.5)(7,2.5)};
\addplot[qqg] coordinates {(0,0)(6.75,3.2)};
\addplot[qqr] coordinates {(0,0)(1,0.62)(2,1.22)(3,1.83)(4,2.32)(4.5,2.55)(5,2.78)(5.5,2.95)(6,3.05)};
\addplot[ptr,mark size=.9pt] coordinates {(6.1,3.07)(6.3,3.12)(6.5,3.17)(6.75,3.25)};
\end{axis}
\begin{axis}[qq,at={(994.3pt,203.7pt)},anchor=south west,height=102.3pt,ymax=6]
\addplot[qqt] coordinates {(0,3)(7,3)};
\addplot[qqg] coordinates {(0,0)(6.75,4.2)};
\addplot[qqr] coordinates {(0,0)(1,0.75)(2,1.45)(3,2.25)(4,3.1)(4.5,3.45)(5,3.75)(5.5,3.95)(5.9,4.2)};
\addplot[ptr,mark size=.9pt] coordinates {(6,4.27)(6.1,4.33)(6.25,4.4)(6.4,4.8)(6.75,5.3)};
\end{axis}

% annotations
\node[anchor=center,font=\fs{17.5}\bfseries] at (205,601) {A};
\node[anchor=center,font=\fs{17.5}\bfseries] at (205,460) {B};
\node[anchor=center,font=\fs{17.5}\bfseries] at (205,320) {C};
\node[anchor=center,font=\fs{17.4}] at (611,606) {2010\_HN\_Full\_GNP};
\node[anchor=center,font=\fs{17.4}] at (611,464) {2012\_HN\_Full\_GNP};
\node[anchor=center,font=\fs{17.4}] at (611,318) {2013\_HN\_Full\_GNP};
\node[anchor=center,font=\fs{17.5}\itshape] at (364,597) {qGNP1.3};
\node[anchor=center,font=\fs{17.5}\itshape,text=redM] at (756,597) {DTH7};
\node[anchor=center,font=\fs{17.5}\itshape,text=redM] at (283.5,464) {TUT1};
\node[anchor=center,font=\fs{17.5}\itshape,text=redM] at (711,455) {Ghd7};
\draw[redM,line width=3.4pt,-{Latex[length=7pt,width=10pt]}] (321.7,592.7) -- (306,588.5);
\draw[redM,line width=3.4pt,-{Latex[length=7pt,width=10pt]}] (728.3,584.3) -- (717,571.5);
\draw[redM,line width=3.4pt,-{Latex[length=7pt,width=10pt]}] (271.7,451) -- (263,436.5);
\draw[redM,line width=3.4pt,-{Latex[length=7pt,width=10pt]}] (685,448.7) -- (672.5,436.5);

% caption
\node[anchor=base west,inner sep=0pt,text=capgray,font=\capfont\fs{12}\bfseries] at (39,123.5) {FIGURE 2};
\node[anchor=base west,inner sep=0pt,text=capgray,font=\capfont\fs{17.2}] at (39,99.5) {GWAS results of GNP in different years. Quantile–quantile plots and Manhattan plots for the GWAS in 2010 \textbf{(A)}, 2012 \textbf{(B)}, and 2013 \textbf{(C)} using};
\node[anchor=base west,inner sep=0pt,text=capgray,font=\capfont\fs{17.2}] at (39,75.5) {CMLM. Red points in the Manhattan plot represent the QTLs that were identified at least two years. In quantile-quantile plots, red points show};
\node[anchor=base west,inner sep=0pt,text=capgray,font=\capfont\fs{17.2}] at (39,51.5) {the CMLM model. In the Manhattan plots, the gene in red was previously cloned. A dotted horizontal line for each figure indicates the};
\node[anchor=base west,inner sep=0pt,text=capgray,font=\capfont\fs{17.2}] at (39,27.5) {significance threshold (\textit{P} = 10\textsuperscript{−5}).};
\end{tikzpicture}
\end{document}
